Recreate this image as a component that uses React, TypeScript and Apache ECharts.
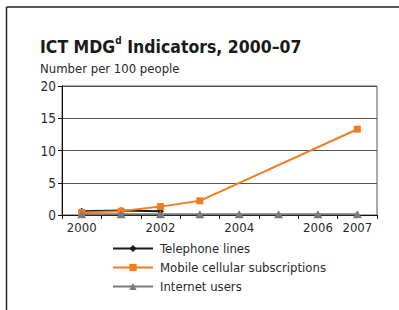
import React, { useEffect, useRef } from "react";
import * as echarts from "echarts";

const years = ["2000", "2001", "2002", "2003", "2004", "2005", "2006", "2007"];
const xTickLabels = ["2000", "", "2002", "", "2004", "", "2006", "2007"];
const telephoneLines = [0.6, 0.7, 0.6, null, null, null, null, null];
const mobileSubscriptions = [0.4, 0.6, 1.3, 2.2, null, null, null, 13.3];
const internetUsers = [0.1, 0.1, 0.1, 0.1, 0.1, 0.1, 0.1, 0.1];
const yTicks = [0, 5, 10, 15, 20];

const FONT = "'Liberation Sans Narrow', 'DejaVu Sans Condensed', 'Arial Narrow', sans-serif";

export default function App() {
  const ref = useRef<HTMLDivElement>(null);
  useEffect(() => {
    if (!ref.current) return;
    const chart = echarts.init(ref.current, undefined, { renderer: "svg" });
    chart.setOption({
      animation: false,
      backgroundColor: "#ffffff",
      textStyle: { fontFamily: FONT },
      title: {
        left: 40,
        top: 35,
        padding: 0,
        text: "{b|ICT MDG}{sup|d}{b| Indicators, 2000–07}",
        textStyle: {
          rich: {
            b: { fontFamily: FONT, fontSize: 17.5, fontWeight: "bold", color: "#1a1a1a", lineHeight: 21, verticalAlign: "bottom" },
            sup: { fontFamily: FONT, fontSize: 10, fontWeight: "bold", color: "#1a1a1a", lineHeight: 21, verticalAlign: "top", padding: [0, 0, 8, 0] },
          },
        },
        subtext: "Number per 100 people",
        itemGap: 6,
        subtextStyle: { fontFamily: FONT, fontSize: 13, color: "#2a2a2a" },
      },
      graphic: [
        { type: "line", shape: { x1: 6.5, y1: 7, x2: 399, y2: 7 }, style: { stroke: "#222", lineWidth: 1.5 } },
        { type: "line", shape: { x1: 6.5, y1: 7, x2: 6.5, y2: 310 }, style: { stroke: "#222", lineWidth: 1.5 } },
      ],
      grid: {
        left: 62,
        right: 22,
        top: 86,
        bottom: 95,
        show: true,
        borderColor: "#555",
        borderWidth: 1,
      },
      legend: {
        orient: "vertical",
        left: 112,
        top: 242,
        itemWidth: 40,
        itemHeight: 9,
        itemGap: 6,
        padding: 0,
        textStyle: { fontFamily: FONT, fontSize: 13, color: "#2a2a2a", padding: [0, 0, 0, 2] },
        data: ["Telephone lines", "Mobile cellular subscriptions", "Internet users"],
      },
      xAxis: {
        type: "category",
        data: years,
        boundaryGap: true,
        axisLine: { lineStyle: { color: "#111", width: 1 } },
        axisTick: { show: true, interval: 0, length: 4, lineStyle: { color: "#111" } },
        axisLabel: {
          interval: 0,
          margin: 6,
          fontFamily: FONT,
          fontSize: 13,
          color: "#2a2a2a",
          formatter: (_v: string, i: number) => xTickLabels[i],
        },
      },
      yAxis: {
        type: "value",
        min: yTicks[0],
        max: yTicks[yTicks.length - 1],
        interval: 5,
        axisLine: { show: true, lineStyle: { color: "#111", width: 1 } },
        axisTick: { show: true, length: 4, lineStyle: { color: "#111" } },
        axisLabel: { margin: 6, fontFamily: FONT, fontSize: 13.5, color: "#2a2a2a" },
        splitLine: { show: true, lineStyle: { color: "#555", width: 1 } },
      },
      series: [
        {
          name: "Telephone lines",
          type: "line",
          data: telephoneLines,
          symbol: "diamond",
          symbolSize: 7,
          itemStyle: { color: "#1a1a1a" },
          lineStyle: { color: "#1a1a1a", width: 2 },
          z: 3,
        },
        {
          name: "Mobile cellular subscriptions",
          type: "line",
          data: mobileSubscriptions,
          connectNulls: true,
          symbol: "rect",
          symbolSize: 7,
          itemStyle: { color: "#f47b20" },
          lineStyle: { color: "#f47b20", width: 2 },
          z: 4,
        },
        {
          name: "Internet users",
          type: "line",
          data: internetUsers,
          symbol: "triangle",
          symbolSize: [9, 8],
          itemStyle: { color: "#7a7a7a" },
          lineStyle: { color: "#7a7a7a", width: 2 },
          z: 5,
        },
      ],
    });
    return () => chart.dispose();
  }, []);
  return <div ref={ref} style={{ position: "fixed", left: 0, top: 0, width: 399, height: 310 }} />;
}
